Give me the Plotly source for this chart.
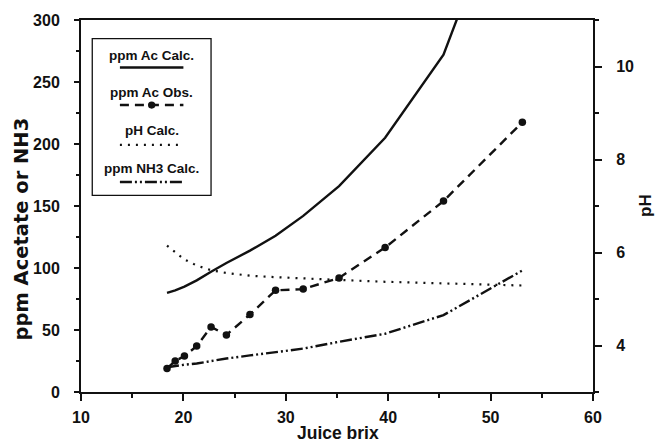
import plotly.graph_objects as go

# ---- data ----
brix = [18.4, 19.2, 20.1, 21.3, 22.7, 24.2, 26.5, 29.0, 31.7, 35.2, 39.7, 45.4, 53.1]
ac_calc = [80, 82, 85, 90, 97, 104, 114, 126, 142, 166, 205, 272, 440]
ac_obs = [19, 25, 29, 37, 52.5, 46, 62.5, 82, 83, 92, 116.5, 154, 217.5]
ph_calc = [6.15, 6.0, 5.85, 5.72, 5.62, 5.56, 5.5, 5.47, 5.45, 5.41, 5.37, 5.33, 5.29]
nh3_calc = [20, 21, 22, 23, 25, 27, 29.5, 32, 35, 40.5, 47, 62, 98]

legend_labels = ["ppm Ac Calc.", "ppm Ac Obs.", "pH Calc.", "ppm NH3 Calc."]

x_ticks = [10, 20, 30, 40, 50, 60]
y_ticks = [0, 50, 100, 150, 200, 250, 300]
ph_ticks = [4, 6, 8, 10]

FONT = "Liberation Sans"
BLACK = "#111111"
OBS_DASH = "9px,6px"
PH_DOT = "2px,6px"
NH3_DASH = "12px,3px,2px,3px,2px,3px"

fig = go.Figure()
fig.add_trace(go.Scatter(x=brix, y=ac_calc, mode="lines", name=legend_labels[0],
                         line=dict(color=BLACK, width=2.4)))
fig.add_trace(go.Scatter(x=brix, y=ac_obs, mode="lines+markers", name=legend_labels[1],
                         line=dict(color=BLACK, width=2.4, dash=OBS_DASH),
                         marker=dict(color=BLACK, size=7.5)))
fig.add_trace(go.Scatter(x=brix, y=ph_calc, mode="lines", name=legend_labels[2], yaxis="y2",
                         line=dict(color=BLACK, width=2.2, dash=PH_DOT)))
fig.add_trace(go.Scatter(x=brix, y=nh3_calc, mode="lines", name=legend_labels[3],
                         line=dict(color=BLACK, width=2.4, dash=NH3_DASH)))

# ---- boxed legend with centred labels above sample strokes (axis coordinates) ----
shapes = [dict(type="rect", xref="x", yref="y", x0=11.1, x1=22.7, y0=158.6, y1=285,
               line=dict(color=BLACK, width=1.3))]
text_y = [271, 241.6, 210.8, 180]
samp_y = [261.7, 231.4, 199.3, 169.3]
dashes = ["solid", OBS_DASH, PH_DOT, NH3_DASH]
annotations = []
for lab, ty, sy, d in zip(legend_labels, text_y, samp_y, dashes):
    annotations.append(dict(text=lab, xref="x", yref="y", x=16.9, y=ty,
                            showarrow=False, xanchor="center", yanchor="middle",
                            font=dict(family=FONT, size=13.5, color=BLACK, weight="bold")))
    shapes.append(dict(type="line", xref="x", yref="y", x0=13.8, x1=20.0, y0=sy, y1=sy,
                       line=dict(color=BLACK, width=2.4, dash=d)))
shapes.append(dict(type="circle", xref="x", yref="y", x0=16.9 - 0.36, x1=16.9 + 0.36,
                   y0=231.4 - 2.9, y1=231.4 + 2.9, fillcolor=BLACK, line=dict(color=BLACK, width=0)))

# ---- axis titles ----
annotations.append(dict(text="ppm Acetate or NH3", xref="paper", yref="paper",
                        x=-0.1143, y=0.4382, textangle=-90, showarrow=False,
                        xanchor="center", yanchor="middle",
                        font=dict(family="DejaVu Sans", size=19.5, color=BLACK, weight="bold")))
annotations.append(dict(text="pH", xref="paper", yref="paper",
                        x=1.1035, y=0.5027, textangle=-90, showarrow=False,
                        xanchor="center", yanchor="middle",
                        font=dict(family=FONT, size=17, color=BLACK, weight="bold")))
annotations.append(dict(text="Juice brix", xref="paper", yref="paper",
                        x=0.5016, y=-0.1102, showarrow=False,
                        xanchor="center", yanchor="middle",
                        font=dict(family=FONT, size=17.5, color=BLACK, weight="bold")))

tickfont = dict(family=FONT, size=16, color=BLACK, weight="bold")

fig.update_layout(
    template="none",
    width=663, height=443,
    margin=dict(l=81, r=70, t=20, b=51, pad=0),
    paper_bgcolor="white", plot_bgcolor="white",
    showlegend=False,
    shapes=shapes, annotations=annotations,
    xaxis=dict(range=[10, 60], tickvals=x_ticks, ticks="outside", ticklen=7, tickwidth=1.5,
               tickcolor=BLACK, showline=True, linecolor=BLACK, linewidth=2, mirror=True,
               showgrid=False, zeroline=False, tickfont=tickfont, ticklabelstandoff=3,
               automargin=False,
               minor=dict(dtick=5, ticks="outside", ticklen=4, tickcolor=BLACK, showgrid=False)),
    yaxis=dict(range=[0, 300], tickvals=y_ticks, ticks="outside", ticklen=5, tickwidth=1.5,
               tickcolor=BLACK, showline=True, linecolor=BLACK, linewidth=2,
               showgrid=False, zeroline=False, tickfont=tickfont, ticklabelstandoff=11,
               automargin=False,
               minor=dict(dtick=25, ticks="outside", ticklen=3, tickcolor=BLACK, showgrid=False)),
    yaxis2=dict(range=[3, 11], tickvals=ph_ticks, overlaying="y", side="right",
                ticks="outside", ticklen=7, tickwidth=1.5, tickcolor=BLACK,
                showline=True, linecolor=BLACK, linewidth=2,
                showgrid=False, zeroline=False, tickfont=tickfont, ticklabelstandoff=11,
                automargin=False,
                minor=dict(dtick=1, ticks="outside", ticklen=4, tickcolor=BLACK, showgrid=False)),
)

fig.write_html("out.html",
               config={"displayModeBar": False},
               post_script="document.body.style.margin='0';document.body.style.overflow='hidden';")
